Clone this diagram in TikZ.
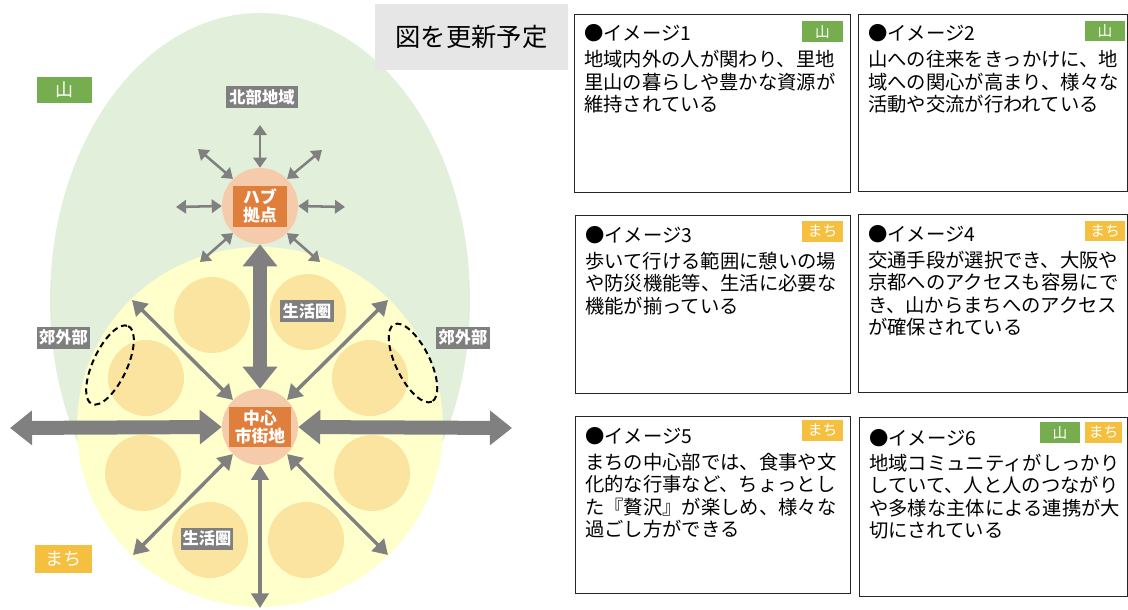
\documentclass[tikz,border=0pt]{standalone}
\usepackage{fontspec}
\setmainfont{Noto Sans CJK JP}
\usetikzlibrary{arrows.meta}
\definecolor{greenbg}{HTML}{E2EFDA}
\definecolor{yellowbg}{HTML}{FFFFCC}
\definecolor{lifeor}{HTML}{FBE4A0}
\definecolor{peach}{HTML}{F5CBAB}
\definecolor{orbox}{HTML}{E07E3C}
\definecolor{lblgray}{HTML}{7F7F7F}
\definecolor{arrgray}{HTML}{808080}
\definecolor{taggreen}{HTML}{75AD4F}
\definecolor{tagorange}{HTML}{F5C03F}
\definecolor{updbox}{HTML}{E7E6E6}
\definecolor{boxline}{HTML}{262626}
\begin{document}
\begin{tikzpicture}[x=0.75pt,y=-0.75pt,
  lbl/.style={fill=lblgray, text=white, font=\bfseries\fontsize{12.2}{13.5}\selectfont, inner sep=0pt, minimum height=16.5pt},
  tag/.style={text=white, font=\fontsize{11}{13}\selectfont, inner sep=0pt, minimum height=15.5pt, minimum width=30.5pt},
  bigtag/.style={text=white, font=\fontsize{13.5}{15}\selectfont, inner sep=0pt},
  lifec/.style={circle, fill=lifeor, minimum size=57pt, inner sep=0pt},
  hubc/.style={circle, fill=peach, minimum size=57pt, inner sep=0pt},
  obox/.style={fill=orbox, text=white, font=\bfseries\fontsize{12.6}{14}\selectfont, align=center, inner sep=0pt},
  thinarr/.style={draw=arrgray, line width=1.9pt, arrows={Triangle[length=7.5pt,width=10pt]-Triangle[length=7.5pt,width=10pt]}},
  medarr/.style={draw=arrgray, line width=2.6pt, arrows={Triangle[length=11pt,width=13pt]-Triangle[length=11pt,width=13pt]}},
  bigarr/.style={draw=arrgray, line width=10.5pt, arrows={Triangle[length=16.5pt,width=25pt]-Triangle[length=16.5pt,width=25pt]}},
  dashell/.style={draw=black, line width=1.5pt, dash pattern=on 4.5pt off 3pt},
  imgbox/.style={draw=boxline, line width=1.1pt, anchor=north west, inner sep=0pt},
  ttl/.style={anchor=west, inner sep=0pt, font=\fontsize{14.5}{16.9}\selectfont},
  body/.style={anchor=north west, inner sep=0pt, align=left, font=\fontsize{14.5}{16.9}\selectfont}
]
\useasboundingbox (0,0) rectangle (1128,610);
% regions
\fill[greenbg] (260,300) ellipse [x radius=210, y radius=287];
\fill[yellowbg] (260,427) ellipse [x radius=183, y radius=180];
% life circles
\node[lifec] (c1) at (212,315) {};
\node[lifec] (c2) at (308,312) {};
\node[lifec] (c3) at (146,378) {};
\node[lifec] (c4) at (370,378) {};
\node[lifec] (c5) at (143,473) {};
\node[lifec] (c6) at (372,473) {};
\node[lifec] (c7) at (210,540) {};
\node[lifec] (c8) at (306,540) {};
% dashed outskirts
\draw[dashell, rotate around={65:(110,365)}] (110,365) ellipse [x radius=43, y radius=17];
\draw[dashell, rotate around={-64:(413,363)}] (413,363) ellipse [x radius=43, y radius=17];
% hubs
\node[hubc] (hub) at (260,206) {};
\node[hubc] (ctr) at (260,427) {};
% free ends
\coordinate (hN) at (260,125);
\coordinate (hNW) at (198,149);
\coordinate (hNE) at (322,150);
\coordinate (hW) at (176,207);
\coordinate (hE) at (345,207);
\coordinate (hSW) at (200,262);
\coordinate (hSE) at (320,262);
\coordinate (cNW) at (132,300);
\coordinate (cNE) at (388,300);
\coordinate (cSW) at (133,555);
\coordinate (cSE) at (388,555);
\coordinate (cS) at (260,608);
\coordinate (cW) at (10,428);
\coordinate (cE) at (512,428);
% hub arrows
\draw[thinarr] (hub.north) -- (hN);
\draw[thinarr] (hub.135) -- (hNW);
\draw[thinarr] (hub.45) -- (hNE);
\draw[thinarr] (hub.west) -- (hW);
\draw[thinarr] (hub.east) -- (hE);
\draw[thinarr] (hub.-135) -- (hSW);
\draw[thinarr] (hub.-45) -- (hSE);
% center arrows
\draw[medarr] (ctr.135) -- (cNW);
\draw[medarr] (ctr.45) -- (cNE);
\draw[medarr] (ctr.-135) -- (cSW);
\draw[medarr] (ctr.-45) -- (cSE);
\draw[medarr] (ctr.south) -- (cS);
\draw[bigarr] (hub.south) -- (ctr.north);
\draw[bigarr] (ctr.west) -- (cW);
\draw[bigarr] (ctr.east) -- (cE);
% hub texts
\node[obox, minimum width=40.5pt, minimum height=30.75pt] (hubt) at (hub) {ハブ\\拠点};
\node[obox, minimum width=46.5pt, minimum height=30pt] (ctrt) at (ctr) {中心\\市街地};
% labels
\node[lbl, minimum width=54pt] (north) at (262,97) {北部地域};
\node[lbl, minimum width=40.5pt] (lc1) at (307,311) {生活圏};
\node[lbl, minimum width=39pt] (lc2) at (207,538.5) {生活圏};
\node[lbl, minimum width=40pt] (subL) at (63.5,337.5) {郊外部};
\node[lbl, minimum width=40pt] (subR) at (463,337.5) {郊外部};
\node[bigtag, fill=taggreen, minimum width=41.25pt, minimum height=19.5pt] (yama) at (64.5,90) {山};
\node[bigtag, fill=tagorange, minimum width=42.75pt, minimum height=21pt] (machi) at (63.5,559) {まち};
\node[fill=updbox, minimum width=144.75pt, minimum height=49.5pt, inner sep=0pt, font=\fontsize{19}{22}\selectfont] (upd) at (471.5,37) {図を更新予定};
% image boxes
\node[imgbox, minimum width=207pt, minimum height=133.5pt] (b1) at (574,14) {};
\node[imgbox, minimum width=201.75pt, minimum height=132.75pt] (b2) at (858,14) {};
\node[imgbox, minimum width=206.25pt, minimum height=133.5pt] (b3) at (575,215) {};
\node[imgbox, minimum width=201.75pt, minimum height=133.5pt] (b4) at (858,214) {};
\node[imgbox, minimum width=206.25pt, minimum height=132.75pt] (b5) at (575,416) {};
\node[imgbox, minimum width=201pt, minimum height=134.25pt] (b6) at (859,417) {};
% titles
\node[ttl] (t1) at (584,33) {●イメージ1};
\node[ttl] (t2) at (868,33) {●イメージ2};
\node[ttl] (t3) at (585,235) {●イメージ3};
\node[ttl] (t4) at (868,234) {●イメージ4};
\node[ttl] (t5) at (585,436) {●イメージ5};
\node[ttl] (t6) at (869,438) {●イメージ6};
% tags
\node[tag, fill=taggreen] (g1) at (822.5,31.5) {山};
\node[tag, fill=taggreen] (g2) at (1105,31) {山};
\node[tag, fill=tagorange] (g3) at (822.5,231.5) {まち};
\node[tag, fill=tagorange] (g4) at (1105,231) {まち};
\node[tag, fill=tagorange] (g5) at (822.5,430.5) {まち};
\node[tag, fill=taggreen] (g6a) at (1060,432.5) {山};
\node[tag, fill=tagorange, minimum width=28pt] (g6b) at (1103.5,432.5) {まち};
% bodies
\node[body] (x1) at (584,50) {地域内外の人が関わり、里地\\里山の暮らしや豊かな資源が\\維持されている};
\node[body] (x2) at (868,50) {山への往来をきっかけに、地\\域への関心が高まり、様々な\\活動や交流が行われている};
\node[body] (x3) at (585,251.5) {歩いて行ける範囲に憩いの場\\や防災機能等、生活に必要な\\機能が揃っている};
\node[body] (x4) at (868,250.5) {交通手段が選択でき、大阪や\\京都へのアクセスも容易にで\\き、山からまちへのアクセス\\が確保されている};
\node[body] (x5) at (585,452.5) {まちの中心部では、食事や文\\化的な行事など、ちょっとし\\た『贅沢』が楽しめ、様々な\\過ごし方ができる};
\node[body] (x6) at (869,453.5) {地域コミュニティがしっかり\\していて、人と人のつながり\\や多様な主体による連携が大\\切にされている};
\end{tikzpicture}
\end{document}
